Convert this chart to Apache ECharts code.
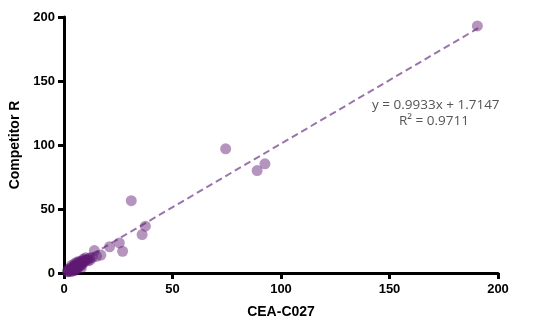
<!DOCTYPE html>
<html><head><meta charset="utf-8">
<script src="https://cdn.jsdelivr.net/npm/echarts@6/dist/echarts.min.js"></script>
<style>html,body{margin:0;padding:0;background:#fff}#c{width:533px;height:334px}</style>
</head><body><div id="c"></div>
<script>
var xTicks = [0, 50, 100, 150, 200];
var yTicks = [0, 50, 100, 150, 200];
var ceaX = [190.5, 74.5, 89, 92.6, 31, 37.5, 36, 25.5, 27, 21, 17, 14, 13, 15,
  2, 3, 3, 4, 4, 5, 5, 6, 6, 7, 7, 8, 8, 9, 9, 10, 11, 12, 10, 12, 3, 2, 5, 6, 8, 4, 5, 7, 9, 11, 6, 3.5, 4.5,
  1.5, 2.5, 3, 4, 5, 6, 7, 8, 9, 10, 2, 4, 6, 8, 5, 7];
var compY = [193, 97, 80, 85.3, 56.5, 36.6, 30, 23.5, 17, 20.5, 14, 17.5, 12, 13,
  1, 2, 4, 3, 5, 4, 6, 5, 7, 6, 8, 7, 9, 8, 10, 10, 11, 12, 12, 10, 1, 3, 2, 3, 4, 1.5, 7.5, 9, 11, 9.5, 8.5, 6, 2.5,
  1, 2, 3, 4, 5, 6, 7, 8, 9, 10, 2, 2.5, 4, 6, 3, 5];
var fitLine = [[0, 1.71], [191, 191.4]];
var eqText = 'y = 0.9933x + 1.7147';
var r2Text = 'R² = 0.9711';

var pts = ceaX.map(function (x, i) { return [x, compY[i]]; });
var chart = echarts.init(document.getElementById('c'), null, {renderer: 'canvas'});
var axisCommon = {
  min: 0, max: 200, interval: 50,
  axisLine: {lineStyle: {color: '#000', width: 3}},
  axisTick: {length: 6, lineStyle: {color: '#000', width: 3}},
  splitLine: {show: false},
  nameTextStyle: {fontFamily: 'Liberation Sans', fontWeight: 'bold', fontSize: 14, color: '#000'},
  axisLabel: {fontFamily: 'Liberation Sans', fontWeight: 'bold', fontSize: 13, color: '#000'}
};
chart.setOption({
  animation: false,
  grid: {left: 64, right: 35, top: 17, bottom: 61},
  xAxis: Object.assign({}, axisCommon, {
    type: 'value', name: 'CEA-C027', nameLocation: 'middle', nameGap: 32,
    axisLabel: Object.assign({}, axisCommon.axisLabel, {margin: 10})
  }),
  yAxis: Object.assign({}, axisCommon, {
    type: 'value', name: 'Competitor R', nameLocation: 'middle', nameGap: 40,
    axisLabel: Object.assign({}, axisCommon.axisLabel, {margin: 9})
  }),
  series: [
    {type: 'line', data: fitLine, symbol: 'none', z: 1,
      lineStyle: {color: '#9a74ab', width: 2, type: [7, 4]}},
    {type: 'scatter', data: pts, symbolSize: 11, z: 2,
      itemStyle: {color: 'rgba(95,25,115,0.58)'}}
  ],
  graphic: [
    {type: 'text', left: 372, top: 98, style: {text: eqText, font: '13.5px "Open Sans"', fill: '#555'}},
    {type: 'text', left: 399, top: 114, style: {text: r2Text, font: '13.5px "Open Sans"', fill: '#555'}}
  ]
});
</script></body></html>
